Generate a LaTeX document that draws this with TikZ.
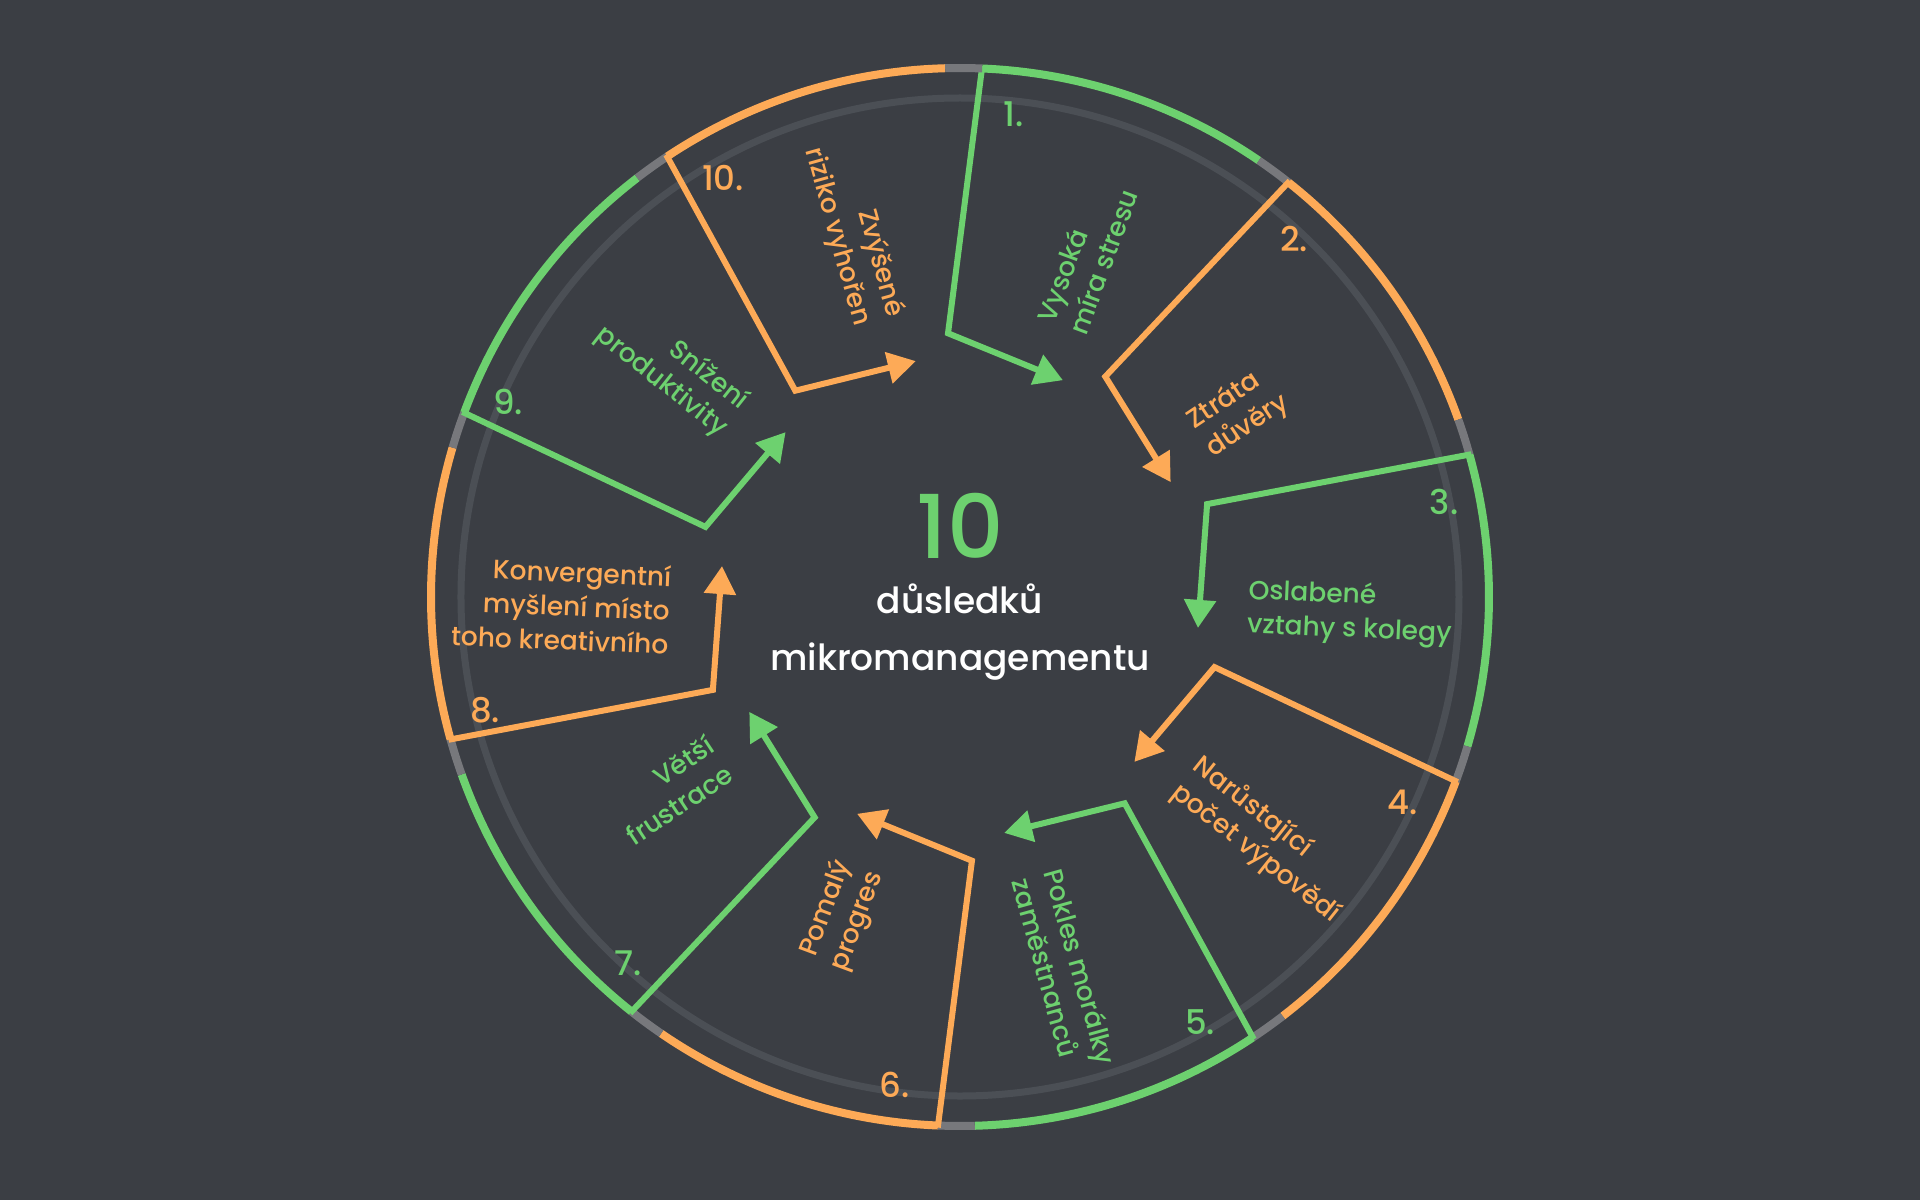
\documentclass[tikz,border=0pt]{standalone}
\usepackage{fontspec}
\setmainfont{Poppins}[UprightFont={* Medium}]
\usetikzlibrary{arrows.meta}
\definecolor{bgc}{HTML}{3B3E44}
\definecolor{grn}{HTML}{6DD16F}
\definecolor{org}{HTML}{FDAA57}
\definecolor{gapc}{HTML}{77787C}
\definecolor{ringc}{HTML}{4B4F55}
\begin{document}
\begin{tikzpicture}[x=1pt,y=1pt,
  conn/.style={line width=6pt, line join=miter, -{Triangle[length=28pt,width=31pt]}},
  lbl/.style={inner sep=0pt, font=\fontsize{26.5}{34}\selectfont},
  num/.style={inner sep=0pt, font=\fontsize{34}{40}\selectfont},
  ttl/.style={inner sep=0pt, text=white, anchor=base, font=\fontsize{36}{42}\selectfont}
]
\fill[bgc] (-960,-603) rectangle (960,597);
\useasboundingbox (-960,-603) rectangle (960,597);
\draw[ringc, line width=7pt] (0,0) circle[radius=499pt];
\foreach \k in {1,...,10} {
  \pgfmathsetmacro{\t}{87.6-36*(\k-1)}
  \pgfmathsetmacro{\te}{\t-32}
  \pgfmathsetmacro{\tg}{\t-36}
  \pgfmathsetmacro{\ti}{\t+5}
  \pgfmathsetmacro{\ta}{\t-23}
  \ifodd\k \def\col{grn}\else\def\col{org}\fi
  \draw[\col, line width=8pt] (\t:529pt) arc[start angle=\t, end angle=\te, radius=529pt];
  \draw[gapc, line width=8pt] (\te:529pt) arc[start angle=\te, end angle=\tg, radius=529pt];
  \coordinate (o\k) at (\t:531pt);
  \coordinate (i\k) at (\ti:264pt);
  \coordinate (a\k) at (\ta:240pt);
  \draw[conn, \col] (o\k) -- (i\k) -- (a\k);
}
% step numbers
\node[num, text=grn] (n1) at (54,483) {1.};
\node[num, text=org] (n2) at (334,358) {2.};
\node[num, text=grn] (n3) at (484,95) {3.};
\node[num, text=org] (n4) at (443,-205) {4.};
\node[num, text=grn] (n5) at (240,-425) {5.};
\node[num, text=org] (n6) at (-65,-488) {6.};
\node[num, text=grn] (n7) at (-332,-366) {7.};
\node[num, text=org] (n8) at (-475,-113) {8.};
\node[num, text=grn] (n9) at (-452,195) {9.};
\node[num, text=org] (n10) at (-237,419) {10.};
% right side texts
\node[lbl, text=grn, anchor=west, align=left, rotate=69.6] (t1) at (69.6:288pt) {Vysoká\\míra stresu};
\node[lbl, text=org, anchor=west, align=left, rotate=33.6] (t2) at (33.6:288pt) {Ztráta\\důvěry};
\node[lbl, text=grn, anchor=west, align=left, rotate=-2.4] (t3) at (-2.4:288pt) {Oslabené\\vztahy s kolegy};
\node[lbl, text=org, anchor=west, align=left, rotate=-38.4] (t4) at (-38.4:288pt) {Narůstající\\počet výpovědí};
\node[lbl, text=grn, anchor=west, align=left, rotate=-74.4] (t5) at (-74.4:288pt) {Pokles morálky\\zaměstnanců};
% left side texts
\node[lbl, text=org, anchor=east, align=right, rotate=69.6] (t6) at (-110.4:288pt) {Pomalý\\progres};
\node[lbl, text=grn, anchor=east, align=right, rotate=33.6] (t7) at (-146.4:288pt) {Větší\\frustrace};
\node[lbl, text=org, anchor=east, align=right, rotate=-2.4] (t8) at (-290,-13) {Konvergentní\\myšlení místo\\toho kreativního};
\node[lbl, text=grn, anchor=east, align=right, rotate=-38.4] (t9) at (141.6:288pt) {Snížení\\produktivity};
\node[lbl, text=org, anchor=east, align=right, rotate=-74.4] (t10) at (106.5:288pt) {Zvýšené\\riziko vyhořen};
% centre
\node[inner sep=0pt, text=grn, font=\fontsize{88}{88}\selectfont] (big) at (0,71) {10};
\node[ttl] (l1) at (0,-16) {důsledků};
\node[ttl] (l2) at (0,-73) {mikromanagementu};
\end{tikzpicture}
\end{document}
